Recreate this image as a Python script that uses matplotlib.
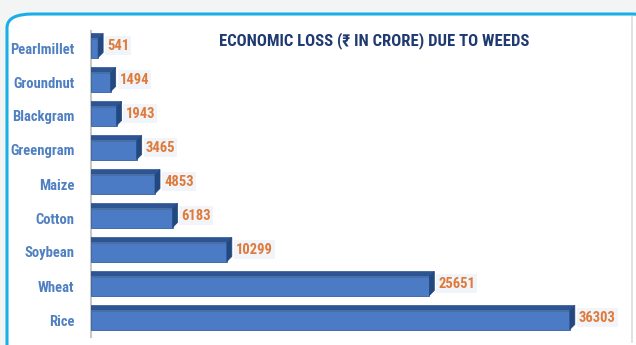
import matplotlib.pyplot as plt
from matplotlib.patches import Polygon, FancyBboxPatch
from matplotlib import font_manager
from matplotlib.lines import Line2D

crops = ["Pearlmillet", "Groundnut", "Blackgram", "Greengram", "Maize",
         "Cotton", "Soybean", "Wheat", "Rice"]
loss = [541, 1494, 1943, 3465, 4853, 6183, 10299, 25651, 36303]

title = "ECONOMIC LOSS (\u20b9 IN CRORE) DUE TO WEEDS"

installed = {f.name for f in font_manager.fontManager.ttflist}
narrow = [n for n in ["Liberation Sans Narrow", "Roboto Condensed", "Open Sans Condensed",
                      "DejaVu Sans Condensed", "Liberation Sans"] if n in installed]
fam = narrow[:1] + ["DejaVu Sans"]

W, H = 636, 345
fig = plt.figure(figsize=(W / 100, H / 100), dpi=100)
fig.patch.set_facecolor("#f3f5f5")

# frame box (rounded, cyan top/left; right side runs off the picture)
box = FancyBboxPatch((7 / W, -20 / H), 650 / W, (H - 14 + 20) / H,
                     boxstyle="round,pad=0,rounding_size=0.04",
                     transform=fig.transFigure, facecolor="white",
                     edgecolor="#19aee6", linewidth=2.2, zorder=-2)
fig.patches.append(box)
fig.lines.append(Line2D([632 / W, 632 / W], [3 / H, (H - 17) / H],
                        transform=fig.transFigure, color="#d9dcdf", lw=1.2,
                        zorder=-1))

xmax = 40000
ax_w = 527.6
ax = fig.add_axes([91 / W, 8 / H, ax_w / W, 306 / H])
ax.set_facecolor("none")
ax.set_xlim(0, xmax)
ax.set_ylim(len(crops) - 0.5, -0.5)

px_x = xmax / ax_w          # data units per pixel, x
px_y = len(crops) / 306     # data units per pixel, y
h = 19 * px_y
dx = 5 * px_x
dy = 5 * px_y

front_c = "#4a7bc4"
top_c = "#2d5593"
side_c = "#23487f"

ys = list(range(len(crops)))
ax.barh(ys, loss, height=h, color=front_c, edgecolor="#34609f",
        linewidth=0.6, zorder=3)
for y, v in zip(ys, loss):
    top = y - h / 2
    bot = y + h / 2
    ax.add_patch(Polygon([(0, top), (v, top), (v + dx, top - dy), (0, top - dy)],
                         closed=True, facecolor=top_c, edgecolor=top_c,
                         lw=0.5, zorder=4))
    ax.add_patch(Polygon([(v, bot), (v + dx, bot - dy), (v + dx, top - dy), (v, top)],
                         closed=True, facecolor=side_c, edgecolor=side_c,
                         lw=0.5, zorder=4))
    ax.text(v + dx + 4 * px_x, y - dy / 2, f"{v}", va="center", ha="left",
            fontsize=10.5, fontweight="bold", color="#e07a3a", family=fam,
            bbox=dict(boxstyle="square,pad=0.15", fc="#f1f4f8", ec="none"),
            zorder=5)

ax.set_yticks(ys)
ax.set_yticklabels(crops, family=fam, fontsize=10.5, fontweight="bold",
                   color="#4f80c2")
ax.tick_params(axis="y", length=0, pad=12)
ax.set_xticks([])
for s in ["top", "right", "bottom"]:
    ax.spines[s].set_visible(False)
ax.spines["left"].set_color("#c8c8c8")
ax.spines["left"].set_linewidth(1.5)

fig.text(374 / W, 1 - 41 / H, title, ha="center", va="center",
         fontsize=12, fontweight="bold", color="#1f3a70", family=fam)

fig.savefig("out.png", dpi=100)
